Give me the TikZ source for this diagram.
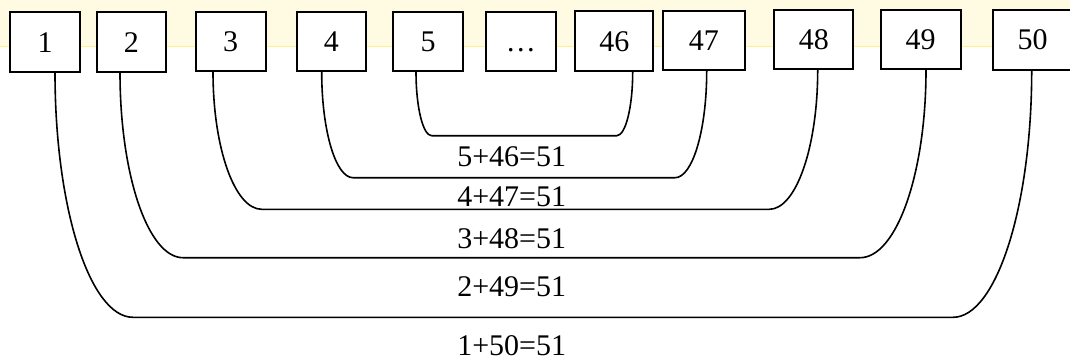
\documentclass[tikz,border=0pt]{standalone}
\usepackage{fontspec}
\setmainfont{Liberation Serif}
\definecolor{bandfill}{RGB}{255,251,226}
\definecolor{bandline}{RGB}{255,240,140}
\begin{document}
\begin{tikzpicture}[x=1pt,y=-1pt,
  box/.style={draw=black, line width=1.8pt, fill=white, inner sep=0pt,
    text height=20pt, text depth=0pt, align=center,
    font=\fontsize{30}{36}\selectfont},
  sumlabel/.style={anchor=base, inner sep=0pt, font=\fontsize{30}{36}\selectfont},
  link/.style={draw=black, line width=1.6pt}]
\useasboundingbox (0,0) rectangle (1070,360);
\fill[bandfill] (0,0) rectangle (1070,46.5);
\draw[bandline, line width=1.5pt] (0,46.5) -- (1070,46.5);

\node[box, minimum width=70pt,   minimum height=59.4pt] (b1)  at (45,42)      {1};
\node[box, minimum width=69.3pt, minimum height=59.4pt] (b2)  at (131.35,42)  {2};
\node[box, minimum width=70pt,   minimum height=59pt]   (b3)  at (230.7,41.5) {3};
\node[box, minimum width=69.3pt, minimum height=59pt]   (b4)  at (331.35,41.5){4};
\node[box, minimum width=69.4pt, minimum height=59pt]   (b5)  at (428,41.2)   {5};
\node[box, minimum width=69.7pt, minimum height=59pt]   (bd)  at (520.85,41.2){\dots};
\node[box, minimum width=78pt,   minimum height=59.4pt] (b46) at (614.3,41)   {46};
\node[box, minimum width=82.3pt, minimum height=59pt]   (b47) at (703.85,40.5){47};
\node[box, minimum width=79pt,   minimum height=59pt]   (b48) at (813.8,39.5) {48};
\node[box, minimum width=80pt,   minimum height=59pt]   (b49) at (920.7,39.5) {49};
\node[box, minimum width=80pt,   minimum height=60pt]   (b50) at (1032.7,39.7){50};

% 1 + 50
\draw[link] ([xshift=10pt]b1.south) .. controls +(0,135.6) and +(-43,0) .. (133,317.3)
  -- (953,317.3) .. controls +(43,0) and +(0,136.7) .. ([xshift=-1pt]b50.south);
% 2 + 49
\draw[link] ([xshift=-11.35pt]b2.south) .. controls +(0,102.7) and +(-34.8,0) .. (183,257.7)
  -- (860,257.7) .. controls +(36.4,0) and +(0,104) .. ([xshift=5.3pt]b49.south);
% 3 + 48
\draw[link] ([xshift=-17.7pt]b3.south) .. controls +(0,76.3) and +(-26.9,0) .. (261.7,209.3)
  -- (769.3,209.3) .. controls +(26.7,0) and +(0,77.4) .. ([xshift=3.9pt]b48.south);
% 4 + 47
\draw[link] ([xshift=-9.65pt]b4.south) .. controls +(0,58.9) and +(-17.3,0) .. (353,177.7)
  -- (675,177.7) .. controls +(17.5,0) and +(0,59.4) .. ([xshift=2.85pt]b47.south);
% 5 + 46
\draw[link] ([xshift=-12pt]b5.south) .. controls +(0,35.9) and +(-8.7,0) .. (431.7,135.7)
  -- (616.7,135.7) .. controls +(8.8,0) and +(0,35.9) .. ([xshift=18.4pt]b46.south);

\node[sumlabel] (s5) at (511.7,166.7) {5+46=51};
\node[sumlabel] (s4) at (511.7,206)   {4+47=51};
\node[sumlabel] (s3) at (511.7,248.3) {3+48=51};
\node[sumlabel] (s2) at (511.7,296.7) {2+49=51};
\node[sumlabel] (s1) at (511.7,355)   {1+50=51};
\end{tikzpicture}
\end{document}
